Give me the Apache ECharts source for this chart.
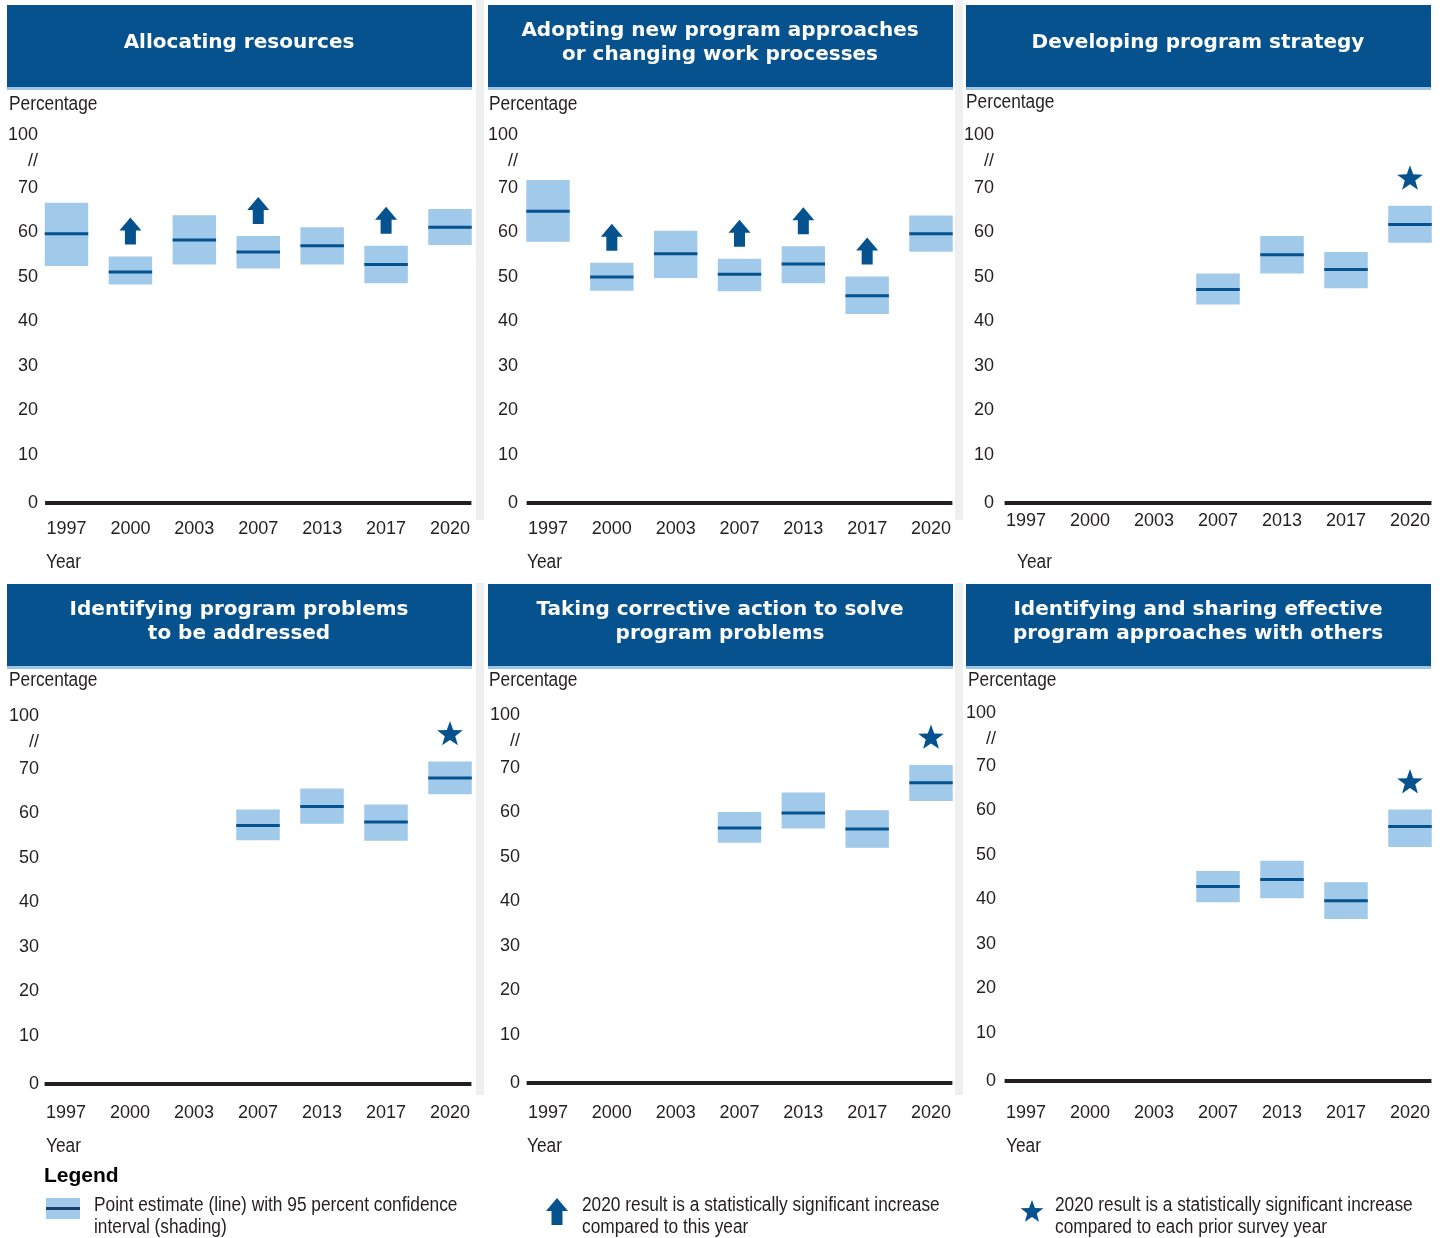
<!DOCTYPE html>
<html>
<head>
<meta charset="utf-8">
<script src="https://cdn.jsdelivr.net/npm/echarts@6/dist/echarts.min.js"></script>
<style>
  html, body { margin: 0; padding: 0; background: #fff; }
  #main { width: 1445px; height: 1238px; }
</style>
</head>
<body>
<div id="main"></div>
<script>
// 年份类目
const years = ['1997', '2000', '2003', '2007', '2013', '2017', '2020'];

const titles = [
    'Allocating resources',
    'Adopting new program approaches\nor changing work processes',
    'Developing program strategy',
    'Identifying program problems\nto be addressed',
    'Taking corrective action to solve\nprogram problems',
    'Identifying and sharing effective\nprogram approaches with others'
];

// 每个面板: 下限 / 点估计 / 上限 (百分比)
const allocLow  = [52.5, 48.3, 52.8, 51.9, 52.8, 48.6, 57.2];
const allocEst  = [59.7, 51.1, 58.3, 55.6, 57.0, 52.8, 61.2];
const allocHigh = [66.7, 54.6, 63.9, 59.2, 61.2, 57.0, 65.3];

const adoptLow  = [57.9, 46.9, 49.8, 46.8, 48.6, 41.7, 55.7];
const adoptEst  = [64.8, 50.0, 55.2, 50.6, 52.9, 45.8, 59.7];
const adoptHigh = [71.8, 53.2, 60.4, 54.1, 56.9, 50.1, 63.8];

const strategyLow  = [null, null, null, 43.8, 50.8, 47.5, 57.7];
const strategyEst  = [null, null, null, 47.2, 55.0, 51.7, 61.8];
const strategyHigh = [null, null, null, 50.8, 59.2, 55.6, 66.0];

const problemsLow  = [null, null, null, 54.0, 57.7, 53.9, 64.3];
const problemsEst  = [null, null, null, 57.3, 61.6, 58.1, 68.0];
const problemsHigh = [null, null, null, 60.9, 65.6, 62.0, 71.7];

const correctLow  = [null, null, null, 53.2, 56.4, 52.1, 62.6];
const correctEst  = [null, null, null, 56.5, 59.9, 56.3, 66.7];
const correctHigh = [null, null, null, 60.1, 64.5, 60.5, 70.7];

const sharingLow  = [null, null, null, 39.4, 40.3, 35.6, 51.8];
const sharingEst  = [null, null, null, 42.9, 44.5, 39.7, 56.4];
const sharingHigh = [null, null, null, 46.4, 48.7, 43.9, 60.2];

// 显著性标记: 箭头 = 2020 显著高于该年, 星号 = 2020 显著高于所有往年
const allocArrows = ['2000', '2007', '2017'];
const adoptArrows = ['2000', '2007', '2013', '2017'];
const starYears = [[], [], ['2020'], ['2020'], ['2020'], ['2020']];

// y 轴刻度标签 (断轴: 70 之后显示 // 和 100)
const tickLabels = { 0: '{z|0}', 10: '10', 20: '20', 30: '30', 40: '40', 50: '50', 60: '60', 70: '70', 76: '//', 82: '100' };

const panelData = [
    [allocLow, allocEst, allocHigh, allocArrows],
    [adoptLow, adoptEst, adoptHigh, adoptArrows],
    [strategyLow, strategyEst, strategyHigh, []],
    [problemsLow, problemsEst, problemsHigh, []],
    [correctLow, correctEst, correctHigh, []],
    [sharingLow, sharingEst, sharingHigh, []]
];

// 面板布局
const layout = [
    { first: 66.5, last: 450, zero: 499.5, xm: 20.5, ym: 28.5, hx: 7,   hy: 5,   px: 9,   py: 104, yx: 46,   yy: 562 },
    { first: 548,  last: 931, zero: 499.5, xm: 20.5, ym: 30,   hx: 488, hy: 5,   px: 489, py: 104, yx: 527,  yy: 562 },
    { first: 1026, last: 1410, zero: 499.5, xm: 12.5, ym: 32,  hx: 966, hy: 5,   px: 966, py: 102, yx: 1017, yy: 562 },
    { first: 66,   last: 450, zero: 1080.5, xm: 23.5, ym: 27,  hx: 7,   hy: 584, px: 9,   py: 680, yx: 46,   yy: 1146 },
    { first: 548,  last: 931, zero: 1079.5, xm: 24.5, ym: 28,  hx: 488, hy: 584, px: 489, py: 680, yx: 527,  yy: 1146 },
    { first: 1026, last: 1410, zero: 1077.5, xm: 26.5, ym: 30, hx: 966, hy: 584, px: 968, py: 680, yx: 1006, yy: 1146 }
];

// 检查窄体字体是否安装
function hasFont(name) {
    const c = document.createElement('canvas').getContext('2d');
    const s = 'mmmmmmmmmmlli 1997 Percentage';
    c.font = '40px monospace';
    const a = c.measureText(s).width;
    c.font = '40px "' + name + '", monospace';
    return c.measureText(s).width !== a;
}
const NARROW = hasFont('Liberation Sans Narrow');
const FONT = NARROW ? '"Liberation Sans Narrow", sans-serif' : '"Liberation Sans", Arial, sans-serif';
const TICK_SIZE = NARROW ? 20 : 18;
const SQUEEZE = NARROW ? 1 : 0.865;   // 没有窄体时横向压缩图形文字

const DARK = '#05528e';
const BAND = '#a1c9ea';
const INK = '#231f20';
const UNIT = 4.45;   // 每个百分点的像素
const YMAX = 82;

function starPoints(cx, cy, r1, r2) {
    const pts = [];
    for (let k = 0; k < 10; k++) {
        const r = k % 2 === 0 ? r1 : r2;
        const a = -Math.PI / 2 + k * Math.PI / 5;
        pts.push([cx + r * Math.cos(a), cy + r * Math.sin(a)]);
    }
    return pts;
}

function arrowPoints(cx, tip) {
    return [
        [cx, tip], [cx + 11, tip + 13], [cx + 5.5, tip + 13], [cx + 5.5, tip + 27],
        [cx - 5.5, tip + 27], [cx - 5.5, tip + 13], [cx - 11, tip + 13]
    ];
}

// 置信区间 + 点估计 + 标记
function renderBox(params, api) {
    const i = api.value(0);
    const lo = api.coord([i, api.value(1)]);
    const mid = api.coord([i, api.value(2)]);
    const hi = api.coord([i, api.value(3)]);
    const flag = api.value(4);
    const w = api.size([1, 0])[0] * 0.68;
    const x = lo[0] - w / 2;
    const children = [
        { type: 'rect', shape: { x: x, y: hi[1], width: w, height: lo[1] - hi[1] }, style: { fill: BAND } },
        { type: 'line', shape: { x1: x, y1: mid[1], x2: x + w, y2: mid[1] }, style: { stroke: DARK, lineWidth: 3 } }
    ];
    if (flag === 1) {
        children.push({ type: 'polygon', shape: { points: arrowPoints(lo[0], hi[1] - 39) }, style: { fill: DARK } });
    } else if (flag === 2) {
        children.push({ type: 'polygon', shape: { points: starPoints(lo[0], hi[1] - 27, 13.5, 5.5) }, style: { fill: DARK } });
    }
    return { type: 'group', children: children };
}

// 底部坐标轴粗线
function renderBase(params, api) {
    const a = api.coord([0, 0]);
    const b = api.coord([years.length - 1, 0]);
    const half = api.size([1, 0])[0] * 0.335;
    return {
        type: 'line',
        shape: { x1: a[0] - half, y1: a[1] + 3.5, x2: b[0] + half, y2: a[1] + 3.5 },
        style: { stroke: INK, lineWidth: 4 }
    };
}

function plainText(x, y, text, extra) {
    return Object.assign({
        type: 'text', x: x, y: y, scaleX: SQUEEZE, silent: true,
        style: { text: text, fill: INK, font: '20px ' + FONT, verticalAlign: 'middle', lineHeight: 22 }
    }, extra || {});
}

const grids = [], xAxes = [], yAxes = [], series = [], graphics = [];

// 灰色分隔条
[[476, 0, 520], [955, 0, 520], [476, 583, 1095], [955, 583, 1095]].forEach(function (s) {
    graphics.push({ type: 'rect', shape: { x: s[0], y: s[1], width: 8, height: s[2] - s[1] }, style: { fill: '#eef0ef' }, silent: true });
});

layout.forEach(function (p, k) {
    grids.push({ left: p.first, width: p.last - p.first, top: p.zero - YMAX * UNIT, height: YMAX * UNIT });
    xAxes.push({
        gridIndex: k, type: 'category', data: years, boundaryGap: false,
        axisLine: { show: false }, axisTick: { show: false }, splitLine: { show: false },
        axisLabel: { margin: p.xm, color: INK, fontSize: TICK_SIZE, fontFamily: FONT, interval: 0 }
    });
    yAxes.push({
        gridIndex: k, type: 'value', min: 0, max: YMAX, interval: 2,
        axisLine: { show: false }, axisTick: { show: false }, splitLine: { show: false },
        axisLabel: {
            margin: p.ym, color: INK, fontSize: TICK_SIZE, fontFamily: FONT, showMinLabel: true, showMaxLabel: true,
            formatter: function (v) { return tickLabels[v] !== undefined ? tickLabels[v] : ''; },
            rich: { z: { fontSize: TICK_SIZE, fontFamily: FONT, color: INK, padding: [8, 0, 0, 0] } }
        }
    });

    const d = panelData[k];
    const items = [];
    years.forEach(function (yr, i) {
        if (d[1][i] == null) return;
        let flag = 0;
        if (d[3].indexOf(yr) >= 0) flag = 1;
        if (starYears[k].indexOf(yr) >= 0) flag = 2;
        items.push([i, d[0][i], d[1][i], d[2][i], flag]);
    });
    series.push({ type: 'custom', xAxisIndex: k, yAxisIndex: k, renderItem: renderBase, data: [[0, 0]], silent: true, clip: false });
    series.push({ type: 'custom', xAxisIndex: k, yAxisIndex: k, renderItem: renderBox, data: items, clip: false, z: 3 });

    // 标题栏
    graphics.push({ type: 'rect', shape: { x: p.hx, y: p.hy, width: 465, height: 82 }, style: { fill: DARK }, silent: true });
    graphics.push({ type: 'rect', shape: { x: p.hx, y: p.hy + 82, width: 465, height: 3 }, style: { fill: '#9ec4e6' }, silent: true });
    graphics.push({
        type: 'text', x: p.hx + 232, y: p.hy + 38, silent: true,
        style: {
            text: titles[k], fill: '#fff', font: 'bold 20px "DejaVu Sans", Verdana, sans-serif',
            align: 'center', verticalAlign: 'middle', lineHeight: 24
        }
    });
    graphics.push(plainText(p.px, p.py, 'Percentage'));
    graphics.push(plainText(p.yx, p.yy, 'Year'));
});

// 图例
graphics.push({ type: 'text', x: 44, y: 1176, silent: true,
    style: { text: 'Legend', fill: '#000', font: 'bold 21px "Liberation Sans", Arial, sans-serif', verticalAlign: 'middle' } });
graphics.push({ type: 'rect', shape: { x: 46, y: 1198, width: 34, height: 21 }, style: { fill: BAND }, silent: true });
graphics.push({ type: 'line', shape: { x1: 46, y1: 1208.5, x2: 80, y2: 1208.5 }, style: { stroke: '#1b3f6b', lineWidth: 3 }, silent: true });
graphics.push(plainText(94, 1216, 'Point estimate (line) with 95 percent confidence\ninterval (shading)'));
graphics.push({ type: 'polygon', shape: { points: arrowPoints(557, 1198) }, style: { fill: DARK }, silent: true });
graphics.push(plainText(582, 1216, '2020 result is a statistically significant increase\ncompared to this year'));
graphics.push({ type: 'polygon', shape: { points: starPoints(1032, 1212, 12, 5) }, style: { fill: DARK }, silent: true });
graphics.push(plainText(1055, 1216, '2020 result is a statistically significant increase\ncompared to each prior survey year'));

const chart = echarts.init(document.getElementById('main'));
chart.setOption({
    animation: false,
    backgroundColor: '#fff',
    grid: grids,
    xAxis: xAxes,
    yAxis: yAxes,
    series: series,
    graphic: graphics
});
</script>
</body>
</html>
